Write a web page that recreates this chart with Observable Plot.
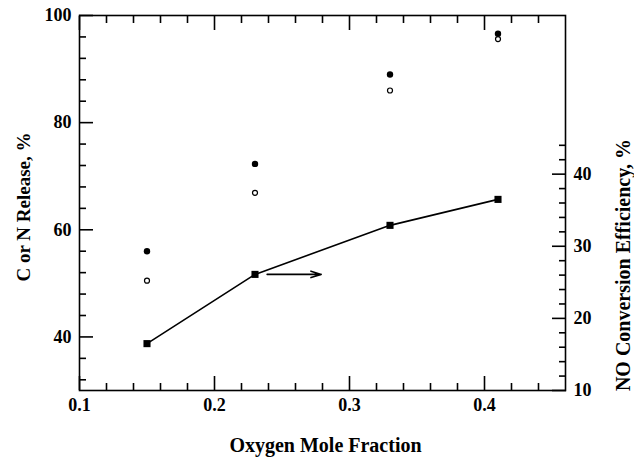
<!DOCTYPE html>
<html><head><meta charset="utf-8">
<script src="https://cdn.jsdelivr.net/npm/d3@7"></script>
<script src="https://cdn.jsdelivr.net/npm/@observablehq/plot@0.6"></script>
<style>body{margin:0;background:#fff}</style>
</head><body><div id="chart"></div>
<script>
// Data
const oxygen = [0.15, 0.23, 0.33, 0.41];
const cRelease = [56.0, 72.3, 89.0, 96.6];      // filled circles (left axis)
const nRelease = [50.5, 66.9, 86.0, 95.6];      // open circles (left axis)
const noConversion = [16.5, 26.1, 32.9, 36.5];  // squares + line (right axis)

// Tick values
const xMajorTicks = [0.1, 0.2, 0.3, 0.4];
const xMinorTicks = [0.12, 0.14, 0.16, 0.18, 0.22, 0.24, 0.26, 0.28, 0.32, 0.34, 0.36, 0.38, 0.42, 0.44];
const leftMajorTicks = [40, 60, 80, 100];
const leftMinorTicks = [32, 36, 44, 48, 52, 56, 64, 68, 72, 76, 84, 88, 92, 96];
const rightMajorTicks = [10, 20, 30, 40];
const rightMinorTicks = [12, 14, 16, 18, 22, 24, 26, 28, 32, 34, 36, 38, 42, 44];

// Arrow annotation pointing to the right axis (x in oxygen fraction, y in right-axis units)
const arrowX = [0.239, 0.279];
const arrowY = [26.1, 26.1];

const xTitle = "Oxygen Mole Fraction";
const leftTitle = "C or N Release, %";
const rightTitle = "NO Conversion Efficiency, %";

const xDomain = [0.1, 0.46];
const leftDomain = [30, 100];
const rightDomain = [10, 62];
const toLeft = r => leftDomain[0] + (r - rightDomain[0]) * (leftDomain[1] - leftDomain[0]) / (rightDomain[1] - rightDomain[0]);
const toRight = l => rightDomain[0] + (l - leftDomain[0]) * (rightDomain[1] - rightDomain[0]) / (leftDomain[1] - leftDomain[0]);

const rows = oxygen.map((x, i) => ({x, c: cRelease[i], n: nRelease[i], no: toLeft(noConversion[i])}));
const arrowData = [{x1: arrowX[0], x2: arrowX[1], y1: toLeft(arrowY[0]), y2: toLeft(arrowY[1])}];

const font = "'Liberation Serif', 'Times New Roman', serif";
const W = 634, H = 458, mL = 79, mR = 69, mT = 15, mB = 68;
const minor = 7, major = 14, tw = 1.6;

// Inward ticks: draw the axis tick outward-style, then shift it into the frame by its own length
const xTicks = (ticks, len, anchor) => Plot.axisX(ticks, {
  anchor, tickSize: len, dy: anchor === "bottom" ? -len : len,
  tickFormat: () => "", label: null, stroke: "#000", strokeWidth: tw
});
const yTicks = (ticks, len, anchor) => Plot.axisY(ticks, {
  anchor, tickSize: len, dx: anchor === "left" ? len : -len,
  tickFormat: () => "", label: null, stroke: "#000", strokeWidth: tw
});

const chart = Plot.plot({
  width: W,
  height: H,
  marginLeft: mL,
  marginRight: mR,
  marginTop: mT,
  marginBottom: mB,
  style: {fontFamily: font, fontWeight: "bold", fontSize: "18px", background: "#fff", color: "#000"},
  x: {domain: xDomain},
  y: {domain: leftDomain},
  marks: [
    // tick labels
    Plot.axisX(xMajorTicks, {anchor: "bottom", tickSize: 0, tickPadding: 8, tickFormat: d3.format(".1f"), label: null}),
    Plot.axisY(leftMajorTicks, {anchor: "left", tickSize: 0, tickPadding: 8, label: null}),
    Plot.axisY(rightMajorTicks.map(toLeft), {anchor: "right", tickSize: 0, tickPadding: 8, tickFormat: d => String(Math.round(toRight(d))), label: null}),
    Plot.frame({stroke: "#000", strokeWidth: 1.6}),
    // inward ticks
    xTicks(xMinorTicks, minor, "bottom"),
    xTicks(xMajorTicks, major, "bottom"),
    xTicks(xMinorTicks, minor, "top"),
    xTicks(xMajorTicks, major, "top"),
    yTicks(leftMinorTicks, minor, "left"),
    yTicks(leftMajorTicks, major, "left"),
    yTicks(rightMinorTicks.map(toLeft), minor, "right"),
    yTicks(rightMajorTicks.map(toLeft), major, "right"),
    // titles
    Plot.text([xTitle], {frameAnchor: "bottom", dy: 55, dx: 3, text: d => d, fontSize: 20, lineAnchor: "middle", textAnchor: "middle"}),
    Plot.text([leftTitle], {frameAnchor: "left", dx: -56, dy: 4, rotate: -90, text: d => d, fontSize: 19, textAnchor: "middle", lineAnchor: "middle"}),
    Plot.text([rightTitle], {frameAnchor: "right", dx: 58, dy: 62, rotate: -90, text: d => d, fontSize: 20, textAnchor: "middle", lineAnchor: "middle"}),
    // NO conversion line + squares
    Plot.line(rows, {x: "x", y: "no", stroke: "#000", strokeWidth: 1.6}),
    Plot.dot(rows, {x: "x", y: "no", symbol: "square", r: 4, fill: "#000"}),
    Plot.arrow(arrowData, {x1: "x1", y1: "y1", x2: "x2", y2: "y2", stroke: "#000", strokeWidth: 1.6, headLength: 10, headAngle: 35}),
    // release points
    Plot.dot(rows, {x: "x", y: "c", r: 3.2, fill: "#000"}),
    Plot.dot(rows, {x: "x", y: "n", r: 2.5, fill: "#fff", stroke: "#000", strokeWidth: 1.2})
  ]
});
document.getElementById("chart").appendChild(chart);
</script>
</body></html>
